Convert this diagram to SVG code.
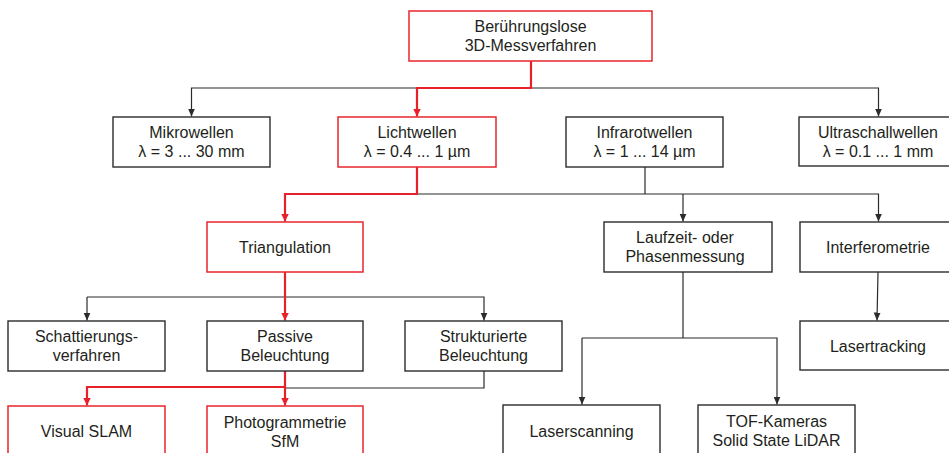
<svg xmlns="http://www.w3.org/2000/svg" width="949" height="453" viewBox="0 0 949 453">
<style>
.box{fill:#fff;stroke:#2b2b2b;stroke-width:1.4}
.rbox{fill:#fff;stroke:#e8262e;stroke-width:1.5}
text{font-family:"Liberation Sans",Arial,sans-serif;font-size:16px;fill:#231f20;text-anchor:middle}
.c{fill:none;stroke:#2b2b2b;stroke-width:1.2}
.r{fill:none;stroke:#e8202a;stroke-width:2.2}
</style>
<defs>
<marker id="ab" markerUnits="userSpaceOnUse" markerWidth="8" markerHeight="8" refX="8" refY="3.5" orient="auto"><path d="M0,0 L8,3.5 L0,7 z" fill="#2b2b2b"/></marker>
<marker id="ar" markerUnits="userSpaceOnUse" markerWidth="9" markerHeight="9" refX="8" refY="4" orient="auto"><path d="M0,0 L8,4 L0,8 z" fill="#e8202a"/></marker>
</defs>
<rect width="949" height="453" fill="#fff"/>
<g id="connectors">
<path class="c" d="M417 88 H191.5 V116.5" marker-end="url(#ab)"/>
<path class="c" d="M531 88 H878.5 V116.5" marker-end="url(#ab)"/>
<path class="c" d="M645 167 V194"/>
<path class="c" d="M418 194 H878.5 V221.5" marker-end="url(#ab)"/>
<path class="c" d="M683 194 V221.5" marker-end="url(#ab)"/>
<path class="c" d="M87 297 H484 V320.5" marker-end="url(#ab)"/>
<path class="c" d="M87 297 V320.5" marker-end="url(#ab)"/>
<path class="c" d="M683 272 V338"/>
<path class="c" d="M582 338 H777 V404.5" marker-end="url(#ab)"/>
<path class="c" d="M582 338 V404.5" marker-end="url(#ab)"/>
<path class="c" d="M878 272 L877 320.5" marker-end="url(#ab)"/>
<path class="c" d="M484 371 V388 H285"/>
<path class="r" d="M531 61 V88 H417 V116.5" marker-end="url(#ar)"/>
<path class="r" d="M417 167 V194 H285 V221.5" marker-end="url(#ar)"/>
<path class="r" d="M285 272 V320.5" marker-end="url(#ar)"/>
<path class="r" d="M285 371 V405.5" marker-end="url(#ar)"/>
<path class="r" d="M285 387 H87 V405.5" marker-end="url(#ar)"/>
</g>
<g id="n-root"><rect class="rbox" x="409" y="11" width="243" height="50"/><text x="530.5" y="31.5">Berührungslose</text><text x="530.5" y="51">3D-Messverfahren</text></g>
<g id="n-mikro"><rect class="box" x="113" y="117" width="157" height="50"/><text x="191.5" y="137.5">Mikrowellen</text><text x="191.5" y="157">λ = 3 ... 30 mm</text></g>
<g id="n-licht"><rect class="rbox" x="338" y="117" width="158" height="50"/><text x="417" y="137.5">Lichtwellen</text><text x="417" y="157">λ = 0.4 ... 1 µm</text></g>
<g id="n-infra"><rect class="box" x="566" y="117" width="157" height="50"/><text x="644.5" y="137.5">Infrarotwellen</text><text x="644.5" y="157">λ = 1 ... 14 µm</text></g>
<g id="n-ultra"><rect class="box" x="799" y="117" width="158" height="49"/><text x="878" y="137.5">Ultraschallwellen</text><text x="878" y="157">λ = 0.1 ... 1 mm</text></g>
<g id="n-tri"><rect class="rbox" x="207" y="222" width="156" height="50"/><text x="285" y="253">Triangulation</text></g>
<g id="n-lauf"><rect class="box" x="604" y="222" width="168" height="50"/><text x="685" y="242.5">Laufzeit- oder</text><text x="685" y="262">Phasenmessung</text></g>
<g id="n-interf"><rect class="box" x="800" y="222" width="157" height="50"/><text x="878" y="253">Interferometrie</text></g>
<g id="n-schatt"><rect class="box" x="8" y="321" width="157" height="50"/><text x="86.5" y="341.5">Schattierungs-</text><text x="86.5" y="361">verfahren</text></g>
<g id="n-passiv"><rect class="box" x="207" y="321" width="156" height="50"/><text x="285" y="341.5">Passive</text><text x="285" y="361">Beleuchtung</text></g>
<g id="n-strukt"><rect class="box" x="405" y="321" width="157" height="50"/><text x="483.5" y="341.5">Strukturierte</text><text x="483.5" y="361">Beleuchtung</text></g>
<g id="n-lasertrack"><rect class="box" x="800" y="321" width="157" height="49"/><text x="878" y="352">Lasertracking</text></g>
<g id="n-slam"><rect class="rbox" x="8" y="406" width="157" height="50"/><text x="86.5" y="437">Visual SLAM</text></g>
<g id="n-photo"><rect class="rbox" x="207" y="406" width="156" height="50"/><text x="285" y="427.5">Photogrammetrie</text><text x="285" y="447">SfM</text></g>
<g id="n-laserscan"><rect class="box" x="503" y="405" width="157" height="51"/><text x="581.5" y="436.5">Laserscanning</text></g>
<g id="n-tof"><rect class="box" x="698" y="405" width="157" height="51"/><text x="776.5" y="427">TOF-Kameras</text><text x="776.5" y="446">Solid State LiDAR</text></g>
</svg>
